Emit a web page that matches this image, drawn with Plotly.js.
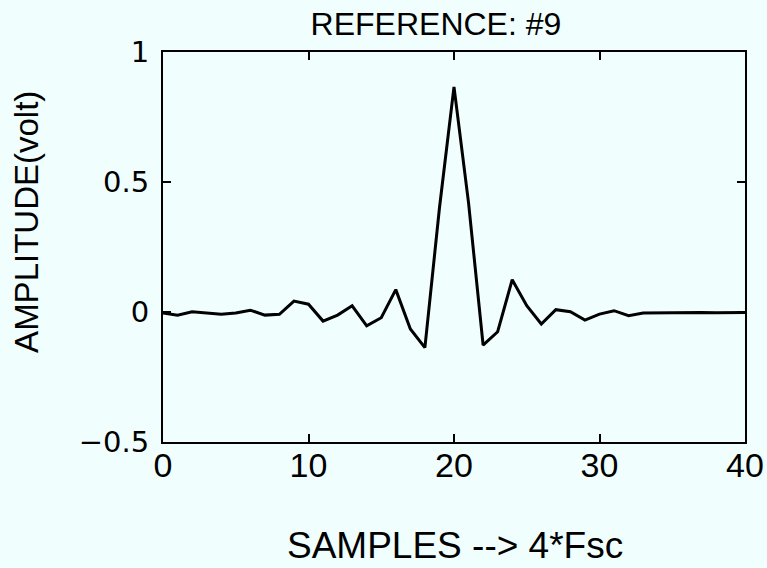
<!DOCTYPE html>
<html>
<head>
<meta charset="utf-8">
<script src="https://cdn.plot.ly/plotly-3.0.1.min.js"></script>
<style>html,body{margin:0;padding:0;background:#f0fefe;}#chart{width:767px;height:568px;}</style>
</head>
<body>
<div id="chart"></div>
<script>
const samples = [0,1,2,3,4,5,6,7,8,9,10,11,12,13,14,15,16,17,18,19,20,21,22,23,24,25,26,27,28,29,30,31,32,33,34,35,36,37,38,39,40];
const amplitude = [-0.004,-0.012,0.001,-0.004,-0.009,-0.004,0.007,-0.012,-0.009,0.042,0.03,-0.035,-0.012,0.024,-0.053,-0.022,0.086,-0.065,-0.137,0.40,0.866,0.42,-0.127,-0.076,0.124,0.024,-0.046,0.009,0.001,-0.031,-0.008,0.005,-0.014,-0.004,-0.003,-0.002,-0.003,-0.002,-0.003,-0.002,-0.002];
const xTicks = [0,10,20,30,40];
const xTickText = ['0','10','20','30','40'];
const yTicks = [-0.5,0,0.5,1];
const yTickText = ['\u22120.5','0','0.5','1'];
const titleText = 'REFERENCE: #9';
const xTitle = 'SAMPLES --> 4*Fsc';
const yTitle = 'AMPLITUDE(volt)';

const bg = '#f0fefe';
const font = 'Liberation Sans, Arial, sans-serif';
const dejavu = 'DejaVu Sans, sans-serif';

Plotly.newPlot('chart', [{
  x: samples, y: amplitude, type: 'scatter', mode: 'lines',
  line: {color: '#000', width: 3}, hoverinfo: 'skip'
}], {
  width: 767, height: 568,
  paper_bgcolor: bg, plot_bgcolor: bg,
  margin: {l: 163, r: 22, t: 52, b: 126},
  showlegend: false,
  title: {text: titleText, x: 0.469, xanchor: 'center', xref: 'paper', y: 1, yref: 'paper', yanchor: 'bottom', pad: {b: 17},
          font: {family: font, size: 32, color: '#000'}},
  xaxis: {
    range: [0, 40], tickvals: xTicks, ticktext: xTickText,
    ticks: 'inside', ticklen: 8, tickwidth: 2, tickcolor: '#000',
    showline: true, linecolor: '#000', linewidth: 2, mirror: 'ticks',
    showgrid: false, zeroline: false,
    tickfont: {family: font, size: 34, color: '#000'},
    ticklabelstandoff: -8,
    automargin: false
  },
  yaxis: {
    range: [-0.5, 1], tickvals: yTicks, ticktext: yTickText,
    ticks: 'inside', ticklen: 8, tickwidth: 2, tickcolor: '#000',
    showline: true, linecolor: '#000', linewidth: 2, mirror: 'ticks',
    showgrid: false, zeroline: false,
    tickfont: {family: dejavu, size: 29, color: '#000'},
    ticklabelstandoff: 6,
    automargin: false
  },
  annotations: [
    {text: xTitle, xref: 'paper', yref: 'paper', x: 0.502, y: -0.266, xanchor: 'center', yanchor: 'middle',
     showarrow: false, font: {family: font, size: 37, color: '#000'}},
    {text: yTitle, xref: 'paper', yref: 'paper', x: -0.235, y: 0.565, xanchor: 'center', yanchor: 'middle',
     textangle: -90, showarrow: false, font: {family: font, size: 33, color: '#000'}}
  ]
}, {displayModeBar: false, staticPlot: true});
</script>
</body>
</html>
